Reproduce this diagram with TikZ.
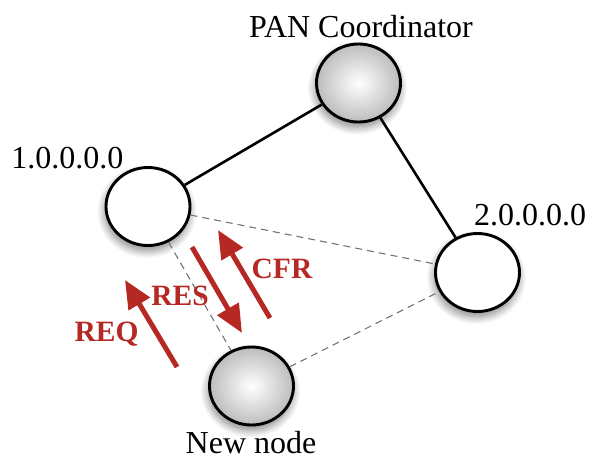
\documentclass[tikz,border=0pt]{standalone}
\usepackage{fontspec}
\setmainfont{Liberation Serif}
\usetikzlibrary{shapes.geometric,arrows.meta,shadows.blur}
\definecolor{msgred}{RGB}{182,40,36}
\tikzset{
  device/.style={ellipse, draw=black, line width=2.9pt, minimum width=84pt, minimum height=78pt,
    inner sep=0pt,
    blur shadow={shadow xshift=-1pt, shadow yshift=-5pt, shadow blur steps=12,
      shadow blur radius=8pt, shadow opacity=50}},
  plain/.style={device, fill=white},
  shaded/.style={device, shading=radial, inner color=white, outer color=black!26},
  link/.style={draw=black, line width=2.6pt},
  radio/.style={draw=black!55, line width=1.1pt, dash pattern=on 7pt off 5pt},
  label/.style={anchor=base, inner sep=0pt, font=\fontsize{32}{36}\selectfont},
  msg/.style={draw=msgred, line width=5pt, -{Triangle[length=28pt,width=24pt]}},
  msglabel/.style={anchor=base, inner sep=0pt, text=msgred, font=\fontsize{29.5}{32}\selectfont\bfseries},
}
\begin{document}
\begin{tikzpicture}[x=1pt, y=-1pt]
  \useasboundingbox (0,0) rectangle (592,466);

  % network devices
  \node[shaded] (pan)  at (358.5,83)   {};
  \node[plain]  (n1)   at (148,206.5)  {};
  \node[plain]  (n2)   at (477.5,272.5) {};
  \node[shaded] (newn) at (251.5,386)  {};

  % tree links
  \draw[link] (n1) -- (pan);
  \draw[link] (pan) -- (n2);

  % radio neighbourhood
  \draw[radio] (n1) -- (n2);
  \draw[radio] (n1) -- (newn);
  \draw[radio] (newn) -- (n2);

  % node labels
  \node[label] (lpan) at (361,37)  {PAN Coordinator};
  \node[label] (ln1)  at (67.5,168) {1.0.0.0.0};
  \node[label] (ln2)  at (530,225) {2.0.0.0.0};
  \node[label] (lnew) at (251,453) {New node};

  % association handshake
  \coordinate (reqA) at (177,367);
  \coordinate (reqB) at (125,280);
  \coordinate (resA) at (192,247);
  \coordinate (resB) at (242,333);
  \coordinate (cfrA) at (270,318);
  \coordinate (cfrB) at (218,230);
  \draw[msg] (reqA) -- (reqB);
  \draw[msg] (resA) -- (resB);
  \draw[msg] (cfrA) -- (cfrB);

  \node[msglabel] (lreq) at (106.5,341) {REQ};
  \node[msglabel] (lres) at (180,305)   {RES};
  \node[msglabel] (lcfr) at (282,278)   {CFR};
\end{tikzpicture}
\end{document}
